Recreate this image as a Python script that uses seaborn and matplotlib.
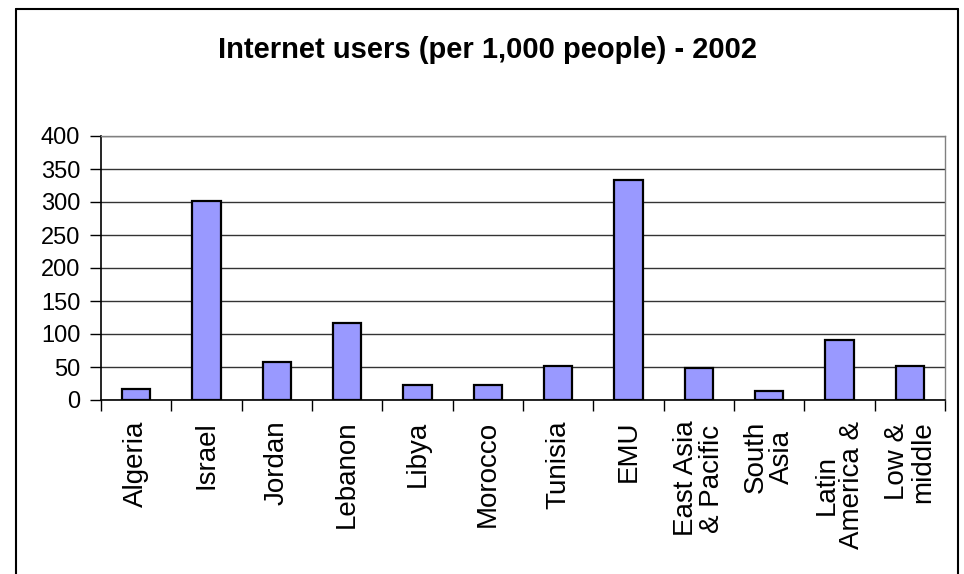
import matplotlib
matplotlib.use("Agg")
import matplotlib.pyplot as plt
from matplotlib.lines import Line2D
from matplotlib.ticker import FixedLocator, MultipleLocator
import seaborn as sns
import pandas as pd

categories = ["Algeria", "Israel", "Jordan", "Lebanon", "Libya", "Morocco",
              "Tunisia", "EMU", "East Asia & Pacific", "South Asia",
              "Latin America &", "Low & middle"]
tick_labels = ["Algeria", "Israel", "Jordan", "Lebanon", "Libya", "Morocco",
               "Tunisia", "EMU", "East Asia\n& Pacific", "South\nAsia",
               "Latin\nAmerica &", "Low &\nmiddle"]
values = [16, 301, 58, 117, 23, 22, 51, 334, 48, 13, 91, 51]
title = "Internet users (per 1,000 people) - 2002"

sns.set_theme(style="white")
plt.rcParams["font.family"] = ["Liberation Sans", "DejaVu Sans"]
plt.rcParams["text.color"] = "black"
plt.rcParams["xtick.color"] = "black"
plt.rcParams["ytick.color"] = "black"

W, H = 964, 574
fig = plt.figure(figsize=(W / 100, H / 100), dpi=100)
fig.patch.set_facecolor("white")
ax = fig.add_axes([101 / W, 1 - 400 / H, (945 - 101) / W, (400 - 136) / H])

df = pd.DataFrame({"category": categories, "value": values})
sns.barplot(data=df, x="category", y="value", ax=ax, color="#9999FF",
            saturation=1, width=0.4, edgecolor="black", linewidth=1.6,
            zorder=3)

ax.set_xlim(-0.5, len(categories) - 0.5)
ax.set_ylim(0, 400)
ax.set_xlabel("")
ax.set_ylabel("")

# horizontal gridlines
ax.yaxis.set_major_locator(MultipleLocator(50))
ax.grid(axis="y", color="#333333", linewidth=1.0, zorder=0)
ax.grid(axis="x", visible=False)

# y-axis ticks and labels
ax.tick_params(axis="y", which="major", direction="out", length=8,
               width=1, color="black", pad=7, labelsize=17, left=True,
               labelcolor="black")

# category boundary ticks on x, labels on centers
ax.xaxis.set_major_locator(FixedLocator([i - 0.5 for i in range(len(categories) + 1)]))
ax.xaxis.set_minor_locator(FixedLocator(list(range(len(categories)))))
ax.set_xticklabels([], minor=False)
ax.set_xticklabels(tick_labels, minor=True, rotation=90, ha="center",
                   va="top", multialignment="center", fontsize=20,
                   linespacing=1.0, color="black")
ax.tick_params(axis="x", which="major", direction="out", length=8,
               width=1, color="black", bottom=True)
ax.tick_params(axis="x", which="minor", length=0, pad=15)

for side in ["left", "bottom"]:
    ax.spines[side].set_color("black")
    ax.spines[side].set_linewidth(1.2)
for side in ["top", "right"]:
    ax.spines[side].set_visible(True)
    ax.spines[side].set_color("#808080")
    ax.spines[side].set_linewidth(1.0)

fig.text(488 / W, 1 - 58 / H, title, ha="center", va="baseline",
         fontsize=21, fontweight="bold", color="black")

# chart area frame (open at the bottom edge)
fx0, fx1, fy = 16 / W, 958 / W, 1 - 9 / H
for xs, ys in [([fx0, fx0], [0, fy]), ([fx0, fx1], [fy, fy]), ([fx1, fx1], [fy, 0])]:
    fig.add_artist(Line2D(xs, ys, color="black", linewidth=1.5,
                          transform=fig.transFigure))

fig.savefig("out.png", dpi=100, facecolor="white")
